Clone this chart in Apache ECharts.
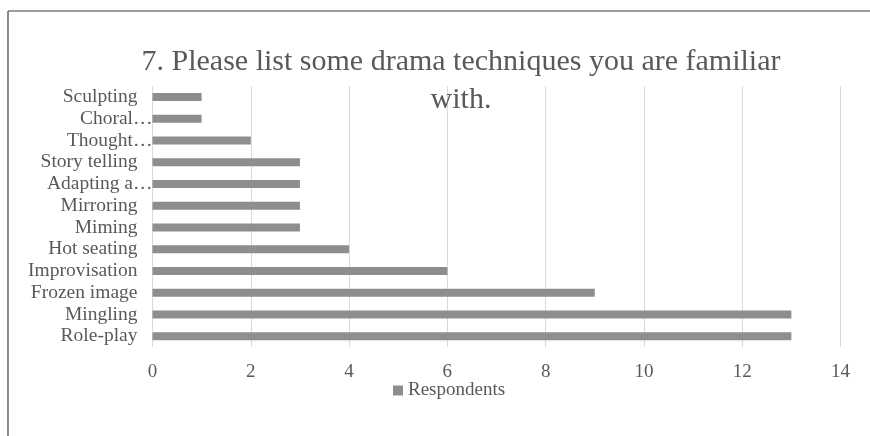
<!DOCTYPE html>
<html>
<head>
<meta charset="utf-8">
<script src="https://cdn.jsdelivr.net/npm/echarts@6/dist/echarts.min.js"></script>
<style>
  html, body { margin: 0; padding: 0; background: #ffffff; }
  #chart { width: 870px; height: 436px; }
</style>
</head>
<body>
<div id="chart"></div>
<script>
// Survey answers, listed bottom-to-top as they appear on the category axis
const categories = [
  'Role-play', 'Mingling', 'Frozen image', 'Improvisation', 'Hot seating',
  'Miming', 'Mirroring', 'Adapting a…', 'Story telling', 'Thought…',
  'Choral…', 'Sculpting'
];
const respondents = [13, 13, 9, 6, 4, 3, 3, 3, 3, 2, 1, 1];
const seriesName = 'Respondents';
const titleText = '7. Please list some drama techniques you are familiar\nwith.';

const serif = '"Liberation Serif", "Times New Roman", serif';
const textColor = '#595959';

const chart = echarts.init(document.getElementById('chart'), null, { renderer: 'canvas' });

chart.setOption({
  backgroundColor: '#ffffff',
  animation: false,
  title: {
    text: titleText,
    left: 461,
    top: 43,
    textAlign: 'center',
    padding: 0,
    textStyle: {
      fontFamily: serif,
      fontSize: 30,
      fontWeight: 'normal',
      color: textColor,
      lineHeight: 38
    }
  },
  legend: {
    data: [seriesName],
    left: 393,
    top: 381,
    padding: 0,
    itemWidth: 10,
    itemHeight: 10,
    icon: 'rect',
    textStyle: { fontFamily: serif, fontSize: 19, color: textColor }
  },
  grid: { left: 152.5, right: 29.5, top: 86, bottom: 89, containLabel: false },
  xAxis: {
    type: 'value',
    min: 0,
    max: 14,
    interval: 2,
    axisLine: { show: false },
    axisTick: { show: false },
    splitLine: { show: true, lineStyle: { color: '#d9d9d9', width: 1 } },
    axisLabel: { fontFamily: serif, fontSize: 19, color: textColor, margin: 16 }
  },
  yAxis: {
    type: 'category',
    data: categories,
    axisLine: { show: false },
    axisTick: { show: false },
    splitLine: { show: false },
    axisLabel: {
      margin: 0,
      formatter: function (v) {
        return v.endsWith('…') ? '{t|' + v + '}' : '{n|' + v + '}';
      },
      rich: {
        n: { fontFamily: serif, fontSize: 19.5, color: textColor, padding: [0, 15, 0, 0] },
        t: { fontFamily: serif, fontSize: 19.5, color: textColor, padding: [0, 0, 0, 0] }
      }
    }
  },
  series: [{
    name: seriesName,
    type: 'bar',
    data: respondents,
    barWidth: 8,
    itemStyle: { color: '#8e8e90' },
    z: 2
  }],
  graphic: [
    { type: 'line', shape: { x1: 8, y1: 11, x2: 870, y2: 11 }, style: { stroke: '#3f3f3f', lineWidth: 1.2 }, silent: true },
    { type: 'line', shape: { x1: 8, y1: 11, x2: 8, y2: 436 }, style: { stroke: '#3f3f3f', lineWidth: 1.2 }, silent: true }
  ]
});
</script>
</body>
</html>
